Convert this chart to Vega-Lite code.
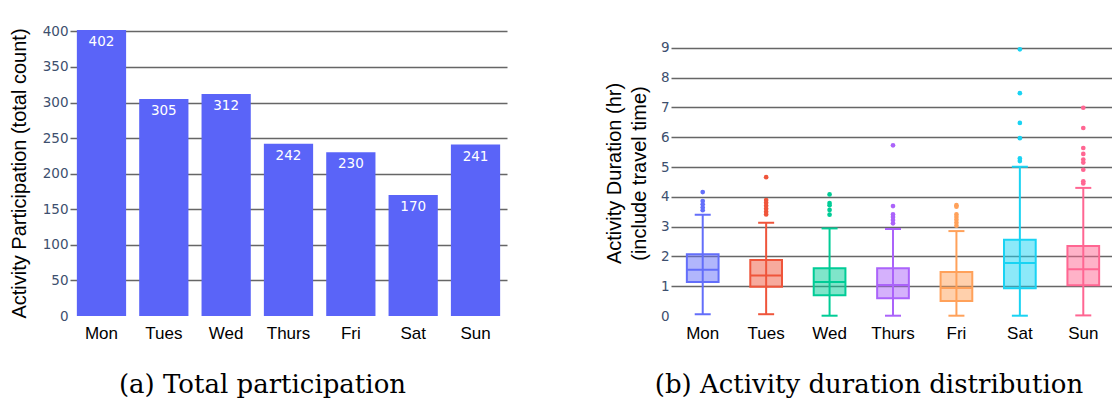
{
  "$schema": "https://vega.github.io/schema/vega-lite/v6.json",
  "padding": {"left": 9, "top": 24, "right": 0, "bottom": 0},
  "background": "white",
  "spacing": 97,
  "datasets": {
    "counts": [
      {"day": "Mon", "count": 402},
      {"day": "Tues", "count": 305},
      {"day": "Wed", "count": 312},
      {"day": "Thurs", "count": 242},
      {"day": "Fri", "count": 230},
      {"day": "Sat", "count": 170},
      {"day": "Sun", "count": 241}
    ],
    "stats": [
      {"day": "Mon", "lower": 0.06, "q1": 1.14, "median": 1.55, "q3": 2.07, "upper": 3.40},
      {"day": "Tues", "lower": 0.06, "q1": 0.98, "median": 1.36, "q3": 1.88, "upper": 3.13},
      {"day": "Wed", "lower": 0.01, "q1": 0.70, "median": 1.14, "q3": 1.60, "upper": 2.94},
      {"day": "Thurs", "lower": 0.01, "q1": 0.60, "median": 1.04, "q3": 1.60, "upper": 2.92},
      {"day": "Fri", "lower": 0.01, "q1": 0.50, "median": 0.94, "q3": 1.48, "upper": 2.85},
      {"day": "Sat", "lower": 0.01, "q1": 0.93, "median": 1.78, "q3": 2.56, "upper": 5.01},
      {"day": "Sun", "lower": 0.02, "q1": 1.03, "median": 1.57, "q3": 2.35, "upper": 4.30}
    ],
    "outliers": [
      {"day": "Mon", "value": 4.16}, {"day": "Mon", "value": 3.86}, {"day": "Mon", "value": 3.75}, {"day": "Mon", "value": 3.64}, {"day": "Mon", "value": 3.55},
      {"day": "Tues", "value": 4.66}, {"day": "Tues", "value": 3.89}, {"day": "Tues", "value": 3.80}, {"day": "Tues", "value": 3.70}, {"day": "Tues", "value": 3.60}, {"day": "Tues", "value": 3.50}, {"day": "Tues", "value": 3.41},
      {"day": "Wed", "value": 4.08}, {"day": "Wed", "value": 3.79}, {"day": "Wed", "value": 3.72}, {"day": "Wed", "value": 3.56}, {"day": "Wed", "value": 3.40},
      {"day": "Thurs", "value": 5.73}, {"day": "Thurs", "value": 3.69}, {"day": "Thurs", "value": 3.41}, {"day": "Thurs", "value": 3.32}, {"day": "Thurs", "value": 3.22}, {"day": "Thurs", "value": 3.11},
      {"day": "Fri", "value": 3.72}, {"day": "Fri", "value": 3.67}, {"day": "Fri", "value": 3.41}, {"day": "Fri", "value": 3.32}, {"day": "Fri", "value": 3.23}, {"day": "Fri", "value": 3.13}, {"day": "Fri", "value": 3.03},
      {"day": "Sat", "value": 8.95}, {"day": "Sat", "value": 7.48}, {"day": "Sat", "value": 6.48}, {"day": "Sat", "value": 5.97}, {"day": "Sat", "value": 5.29}, {"day": "Sat", "value": 5.20},
      {"day": "Sun", "value": 6.99}, {"day": "Sun", "value": 6.31}, {"day": "Sun", "value": 5.64}, {"day": "Sun", "value": 5.44}, {"day": "Sun", "value": 5.25}, {"day": "Sun", "value": 5.15}, {"day": "Sun", "value": 4.91}, {"day": "Sun", "value": 4.52}, {"day": "Sun", "value": 4.45}
    ]
  },
  "config": {
    "view": {"stroke": null},
    "axis": {
      "domain": false,
      "ticks": false,
      "gridColor": "#666666",
      "gridWidth": 1.5,
      "labelFont": "DejaVu Sans",
      "labelFontSize": 13.5,
      "labelColor": "#3d4f6e",
      "titleFont": "Liberation Sans",
      "titleFontWeight": "normal",
      "titleColor": "black"
    },
    "axisX": {
      "labelFont": "Liberation Sans",
      "labelFontSize": 17,
      "labelColor": "black",
      "labelAngle": 0,
      "labelPadding": 9,
      "grid": false,
      "title": null
    }
  },
  "hconcat": [
    {
      "width": 437,
      "height": 286,
      "data": {"name": "counts"},
      "title": {
        "text": "(a) Total participation",
        "orient": "bottom",
        "anchor": "middle",
        "frame": "group",
        "dx": -26,
        "offset": 31,
        "font": "DejaVu Serif",
        "fontSize": 26,
        "fontWeight": "normal",
        "color": "black"
      },
      "encoding": {
        "x": {
          "field": "day", "type": "nominal", "sort": null,
          "scale": {"paddingInner": 0.21, "paddingOuter": 0.11}
        },
        "y": {
          "field": "count", "type": "quantitative",
          "scale": {"domain": [0, 402], "nice": false},
          "axis": {
            "values": [0, 50, 100, 150, 200, 250, 300, 350, 400],
            "title": "Activity Participation (total count)",
            "titleFontSize": 20,
            "titlePadding": 13,
            "labelPadding": 2,
            "gridOpacity": {"condition": {"test": "datum.value === 0", "value": 0}, "value": 1}
          }
        }
      },
      "layer": [
        {"mark": {"type": "bar", "color": "#5a64f8"}},
        {
          "mark": {"type": "text", "baseline": "top", "dy": 5, "color": "white", "font": "DejaVu Sans", "fontSize": 13.5},
          "encoding": {"text": {"field": "count", "type": "quantitative"}}
        }
      ]
    },
    {
      "width": 444,
      "height": 286,
      "title": {
        "text": "(b) Activity duration distribution",
        "orient": "bottom",
        "anchor": "middle",
        "frame": "group",
        "dx": -24,
        "offset": 31,
        "font": "DejaVu Serif",
        "fontSize": 26,
        "fontWeight": "normal",
        "color": "black"
      },
      "encoding": {
        "x": {
          "field": "day", "type": "nominal", "sort": ["Mon", "Tues", "Wed", "Thurs", "Fri", "Sat", "Sun"],
          "scale": {"domain": ["Mon", "Tues", "Wed", "Thurs", "Fri", "Sat", "Sun"], "paddingInner": 0, "paddingOuter": 0}
        },
        "color": {
          "field": "day", "type": "nominal",
          "scale": {"domain": ["Mon", "Tues", "Wed", "Thurs", "Fri", "Sat", "Sun"], "range": ["#636efa", "#ef553b", "#00cc96", "#ab63fa", "#ffa15a", "#19d3f3", "#ff6692"]},
          "legend": null
        }
      },
      "layer": [
        {
          "data": {"name": "stats"},
          "mark": {"type": "rule", "strokeWidth": 2},
          "encoding": {
            "y": {
              "field": "lower", "type": "quantitative",
              "scale": {"domain": [0, 9.6], "nice": false},
              "axis": {"values": [0, 1, 2, 3, 4, 5, 6, 7, 8, 9], "title": ["Activity Duration (hr)", "(include travel time)"], "titleFontSize": 20, "titleLineHeight": 25, "titlePadding": 11, "labelPadding": 2, "gridOpacity": {"condition": {"test": "datum.value === 0", "value": 0}, "value": 1}}
            },
            "y2": {"field": "upper"}
          }
        },
        {
          "data": {"name": "stats"},
          "mark": {"type": "bar", "width": {"band": 0.5}, "fillOpacity": 0.5, "strokeWidth": 2},
          "encoding": {
            "y": {
              "field": "q1", "type": "quantitative",
              "scale": {"domain": [0, 9.6], "nice": false},
              "axis": {"values": [0, 1, 2, 3, 4, 5, 6, 7, 8, 9], "title": ["Activity Duration (hr)", "(include travel time)"], "titleFontSize": 20, "titleLineHeight": 25, "titlePadding": 11, "labelPadding": 2, "gridOpacity": {"condition": {"test": "datum.value === 0", "value": 0}, "value": 1}}
            },
            "y2": {"field": "q3"},
            "stroke": {"field": "day", "type": "nominal", "scale": {"domain": ["Mon", "Tues", "Wed", "Thurs", "Fri", "Sat", "Sun"], "range": ["#636efa", "#ef553b", "#00cc96", "#ab63fa", "#ffa15a", "#19d3f3", "#ff6692"]}, "legend": null}
          }
        },
        {
          "data": {"name": "stats"},
          "mark": {"type": "tick", "size": 32, "thickness": 2, "opacity": 1},
          "encoding": {
            "y": {
              "field": "median", "type": "quantitative",
              "scale": {"domain": [0, 9.6], "nice": false},
              "axis": {"values": [0, 1, 2, 3, 4, 5, 6, 7, 8, 9], "title": ["Activity Duration (hr)", "(include travel time)"], "titleFontSize": 20, "titleLineHeight": 25, "titlePadding": 11, "labelPadding": 2, "gridOpacity": {"condition": {"test": "datum.value === 0", "value": 0}, "value": 1}}
            }
          }
        },
        {
          "data": {"name": "stats"},
          "mark": {"type": "tick", "size": 16, "thickness": 2, "opacity": 1},
          "encoding": {
            "y": {
              "field": "lower", "type": "quantitative",
              "scale": {"domain": [0, 9.6], "nice": false},
              "axis": {"values": [0, 1, 2, 3, 4, 5, 6, 7, 8, 9], "title": ["Activity Duration (hr)", "(include travel time)"], "titleFontSize": 20, "titleLineHeight": 25, "titlePadding": 11, "labelPadding": 2, "gridOpacity": {"condition": {"test": "datum.value === 0", "value": 0}, "value": 1}}
            }
          }
        },
        {
          "data": {"name": "stats"},
          "mark": {"type": "tick", "size": 16, "thickness": 2, "opacity": 1},
          "encoding": {
            "y": {
              "field": "upper", "type": "quantitative",
              "scale": {"domain": [0, 9.6], "nice": false},
              "axis": {"values": [0, 1, 2, 3, 4, 5, 6, 7, 8, 9], "title": ["Activity Duration (hr)", "(include travel time)"], "titleFontSize": 20, "titleLineHeight": 25, "titlePadding": 11, "labelPadding": 2, "gridOpacity": {"condition": {"test": "datum.value === 0", "value": 0}, "value": 1}}
            }
          }
        },
        {
          "data": {"name": "outliers"},
          "mark": {"type": "circle", "size": 22, "opacity": 1},
          "encoding": {
            "y": {
              "field": "value", "type": "quantitative",
              "scale": {"domain": [0, 9.6], "nice": false},
              "axis": {"values": [0, 1, 2, 3, 4, 5, 6, 7, 8, 9], "title": ["Activity Duration (hr)", "(include travel time)"], "titleFontSize": 20, "titleLineHeight": 25, "titlePadding": 11, "labelPadding": 2, "gridOpacity": {"condition": {"test": "datum.value === 0", "value": 0}, "value": 1}}
            }
          }
        }
      ]
    }
  ]
}
